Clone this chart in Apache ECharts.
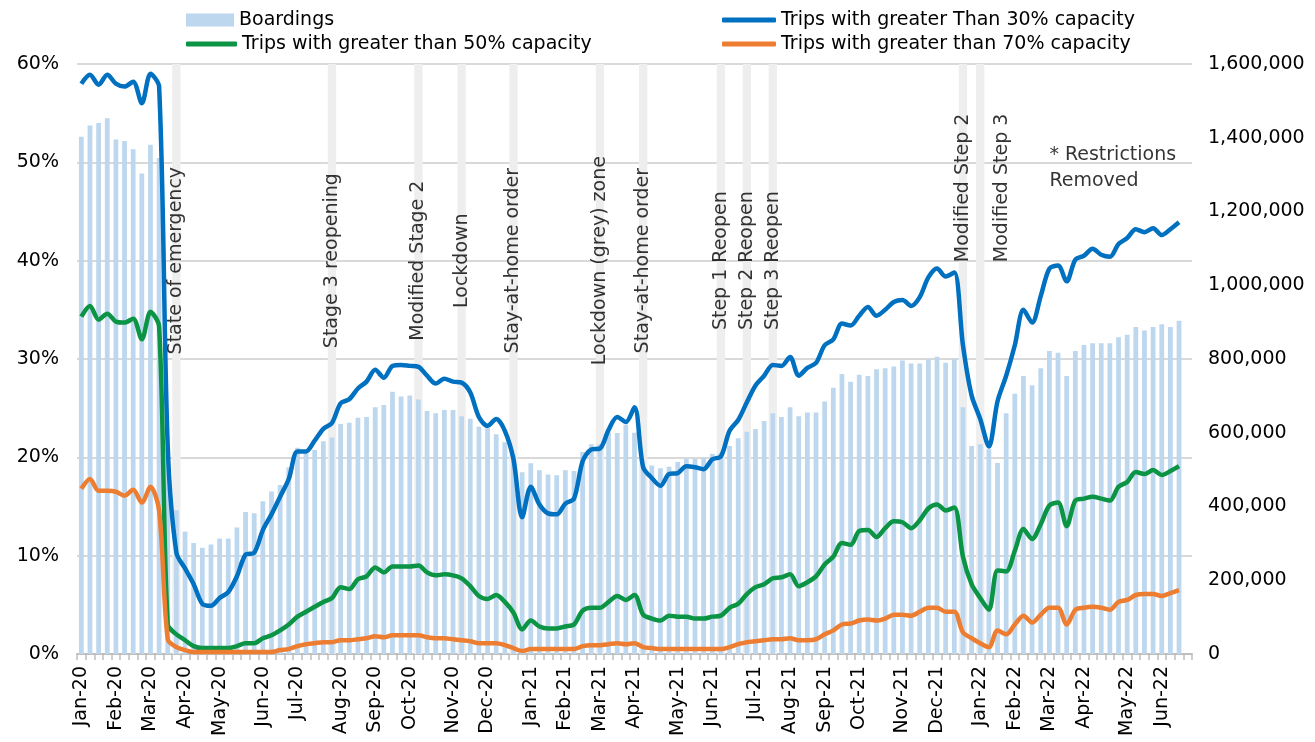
<!DOCTYPE html>
<html>
<head>
<meta charset="utf-8">
<script src="https://cdn.jsdelivr.net/npm/echarts@6/dist/echarts.min.js"></script>
<style>
html,body{margin:0;padding:0;background:#ffffff;}
#chart{width:1315px;height:742px;}
</style>
</head>
<body>
<div id="chart"></div>
<script>
// ---- Weekly categories (128 weeks of data + one trailing empty slot) ----
const weekCount = 129;
const weeks = [];
for (let i = 0; i < weekCount; i++) weeks.push('W' + (i + 1));

// ---- Month tick labels (index of the week that carries the label) ----
const monthLabelIndex = [0,4,8,12,16,21,25,30,34,38,43,47,52,56,60,64,69,73,78,82,86,90,95,99,104,108,112,116,121,125];
const monthLabelText = ['Jan-20','Feb-20','Mar-20','Apr-20','May-20','Jun-20','Jul-20','Aug-20','Sep-20','Oct-20','Nov-20','Dec-20',
  'Jan-21','Feb-21','Mar-21','Apr-21','May-21','Jun-21','Jul-21','Aug-21','Sep-21','Oct-21','Nov-21','Dec-21',
  'Jan-22','Feb-22','Mar-22','Apr-22','May-22','Jun-22'];

// ---- Weekly boardings ----
const boardings = [
  1403000,1433000,1440000,1453000,1395000,1391000,1369000,1303000,1381000,1345000,
  560000,390000,332000,301000,288000,297000,313000,313000,343000,385000,
  382000,414000,441000,458000,506000,559000,546000,553000,577000,587000,
  624000,627000,641000,643000,669000,675000,711000,698000,701000,690000,
  659000,653000,662000,662000,645000,638000,616000,613000,596000,574000,
  540000,493000,517000,498000,487000,485000,498000,496000,548000,569000,
  569000,601000,599000,622000,600000,510000,511000,504000,508000,521000,
  529000,529000,532000,543000,545000,564000,585000,603000,610000,632000,
  653000,643000,669000,645000,655000,655000,685000,722000,759000,738000,
  757000,754000,772000,775000,780000,796000,788000,788000,799000,806000,
  790000,801000,669000,564000,569000,555000,518000,653000,706000,754000,
  729000,775000,822000,817000,754000,822000,838000,843000,843000,843000,
  859000,866000,887000,877000,887000,894000,887000,904000
];

// ---- Share of trips above capacity thresholds (%) ----
const over30 = [
  58.0,58.9,57.9,58.9,58.0,57.7,58.2,56.0,59.0,57.7,
  21.0,10.3,8.7,7.1,5.1,4.9,5.7,6.3,7.9,10.1,
  10.3,12.6,14.2,16.0,17.8,20.6,20.6,21.7,22.9,23.5,
  25.5,25.9,27.0,27.7,28.9,28.1,29.3,29.4,29.3,29.2,
  28.3,27.5,28.0,27.7,27.6,26.6,24.1,23.2,23.9,22.7,
  19.8,13.9,17.0,15.2,14.3,14.2,15.3,15.8,19.6,20.8,
  20.9,22.8,24.1,23.6,25.1,19.0,17.9,17.1,18.3,18.4,
  19.1,19.0,18.8,19.8,20.1,22.7,23.8,25.6,27.3,28.3,
  29.4,29.3,30.2,28.3,29.1,29.6,31.4,32.0,33.6,33.4,
  34.4,35.3,34.4,35.0,35.8,36.0,35.4,36.3,38.3,39.2,
  38.4,38.8,31.4,26.3,23.9,21.1,25.7,28.3,31.4,35.0,
  33.7,36.4,39.2,39.5,37.9,40.1,40.5,41.2,40.6,40.4,
  41.7,42.3,43.2,42.9,43.3,42.6,43.2,43.9
];
const over50 = [
  34.3,35.4,34.0,34.6,33.8,33.7,34.1,32.0,34.8,33.3,
  3.0,2.0,1.4,0.8,0.6,0.6,0.6,0.6,0.8,1.1,
  1.1,1.6,1.9,2.4,3.0,3.8,4.3,4.8,5.3,5.7,
  6.8,6.6,7.6,7.9,8.8,8.3,8.9,8.9,8.9,9.0,
  8.3,8.0,8.1,8.0,7.7,6.9,5.9,5.6,6.0,5.3,
  4.2,2.5,3.4,2.8,2.6,2.6,2.8,3.0,4.4,4.7,
  4.7,5.3,5.9,5.5,6.0,4.0,3.6,3.4,3.9,3.8,
  3.8,3.6,3.6,3.8,3.9,4.7,5.1,6.1,6.8,7.1,
  7.7,7.8,8.1,6.9,7.3,7.9,9.1,9.9,11.3,11.1,
  12.5,12.6,11.9,12.8,13.5,13.4,12.8,13.6,14.8,15.2,
  14.6,14.9,9.9,7.1,5.7,4.5,8.5,8.4,10.5,12.7,
  11.7,13.2,15.1,15.4,13.0,15.6,15.8,16.0,15.8,15.6,
  17.0,17.5,18.5,18.3,18.7,18.2,18.6,19.1
];
const over70 = [
  16.8,17.8,16.6,16.6,16.5,16.1,16.7,15.4,17.0,14.6,
  1.5,0.7,0.4,0.2,0.2,0.2,0.2,0.2,0.2,0.2,
  0.2,0.2,0.2,0.4,0.5,0.8,1.0,1.1,1.2,1.2,
  1.4,1.4,1.5,1.6,1.8,1.7,1.9,1.9,1.9,1.9,
  1.7,1.6,1.6,1.5,1.4,1.3,1.1,1.1,1.1,0.9,
  0.6,0.3,0.5,0.5,0.5,0.5,0.5,0.5,0.8,0.9,
  0.9,1.0,1.1,1.0,1.1,0.7,0.6,0.5,0.5,0.5,
  0.5,0.5,0.5,0.5,0.5,0.7,1.0,1.2,1.3,1.4,
  1.5,1.5,1.6,1.4,1.4,1.5,2.0,2.4,3.0,3.1,
  3.4,3.5,3.4,3.6,4.0,4.0,3.9,4.3,4.7,4.7,
  4.3,4.3,2.2,1.6,1.1,0.7,2.4,2.0,3.0,3.9,
  3.2,4.0,4.7,4.7,3.0,4.5,4.7,4.8,4.7,4.5,
  5.3,5.5,6.0,6.1,6.1,5.9,6.2,6.5
];

// ---- Policy events (week index + name) ----
const eventIndex = [11,29,39,44,50,60,65,74,77,80,102,104];
const eventNames = ['State of emergency','Stage 3 reopening','Modified Stage 2','Lockdown','Stay-at-home order',
  'Lockdown (grey) zone','Stay-at-home order','Step 1 Reopen','Step 2 Reopen','Step 3 Reopen',
  'Modified Step 2','Modified Step 3'];
const noteIndex = 112;
const noteText = '* Restrictions\nRemoved';

// ---- Series names ----
const nameBoard = 'Boardings';
const name30 = 'Trips with greater Than 30% capacity';
const name50 = 'Trips with greater than 50% capacity';
const name70 = 'Trips with greater than 70% capacity';

const FONT = 'DejaVu Sans';
const FS = 19;
const labelAt = {};
monthLabelIndex.forEach((k, j) => { labelAt[k] = monthLabelText[j]; });
const fmtThousands = v => String(v).replace(/\B(?=(\d{3})+(?!\d))/g, ',');

const eventLabelData = eventIndex.map((k, j) => {
  const nm = eventNames[j];
  const high = nm.indexOf('Modified Step') === 0;
  return {
    value: [k, high ? 47.4 : 40],
    name: nm,
    // offset is in the rotated text frame: second component moves the text to the right
    label: nm === 'Modified Step 3' ? { offset: [0, 22] } : {}
  };
});

const legendBase = {
  orient: 'horizontal',
  selectedMode: false,
  padding: 0,
  textStyle: { fontFamily: FONT, fontSize: FS, color: '#000', lineHeight: 24 }
};

const option = {
  animation: false,
  backgroundColor: '#ffffff',
  textStyle: { fontFamily: FONT },
  grid: { left: 77, right: 123, top: 64, bottom: 88, outerBoundsMode: 'none' },
  legend: [
    Object.assign({}, legendBase, { data: [{ name: nameBoard, icon: 'rect' }], left: 186, top: 8, itemWidth: 48, itemHeight: 13 }),
    Object.assign({}, legendBase, { data: [{ name: name30, icon: 'roundRect' }], left: 722, top: 8, itemWidth: 54, itemHeight: 5 }),
    Object.assign({}, legendBase, { data: [{ name: name50, icon: 'roundRect' }], left: 186, top: 32, itemWidth: 51, itemHeight: 5 }),
    Object.assign({}, legendBase, { data: [{ name: name70, icon: 'roundRect' }], left: 722, top: 32, itemWidth: 54, itemHeight: 5 })
  ],
  xAxis: [
    {
      type: 'category',
      data: weeks,
      boundaryGap: true,
      axisLine: { show: true, lineStyle: { color: '#BFBFBF', width: 2 } },
      axisTick: { show: true, interval: 0, length: 6, lineStyle: { color: '#BFBFBF', width: 1.5 } },
      axisLabel: {
        interval: (i) => labelAt[i] !== undefined,
        formatter: (v, i) => labelAt[i] || '',
        rotate: 90,
        fontFamily: FONT,
        fontSize: FS,
        color: '#000',
        margin: 12
      },
      splitLine: { show: false }
    },
    { type: 'category', data: weeks, boundaryGap: true, show: false }
  ],
  yAxis: [
    {
      type: 'value', min: 0, max: 60, interval: 10,
      axisLine: { show: false }, axisTick: { show: false },
      axisLabel: { formatter: '{value}%', fontFamily: FONT, fontSize: FS, color: '#000', margin: 18 },
      splitLine: { show: true, lineStyle: { color: '#D9D9D9', width: 2 } }
    },
    {
      type: 'value', min: 0, max: 1600000, interval: 200000, position: 'right',
      axisLine: { show: false }, axisTick: { show: false },
      axisLabel: { formatter: fmtThousands, fontFamily: FONT, fontSize: FS, color: '#000', margin: 16 },
      splitLine: { show: false }
    }
  ],
  series: [
    {
      name: 'events', type: 'bar', xAxisIndex: 1, yAxisIndex: 0,
      data: eventIndex.map(k => [k, 60]),
      barWidth: '96%', itemStyle: { color: '#EEEEEE' }, z: 1, silent: true
    },
    {
      name: nameBoard, type: 'bar', xAxisIndex: 0, yAxisIndex: 1,
      data: boardings, barWidth: '55%', itemStyle: { color: '#BDD7EE' }, z: 2, silent: true
    },
    {
      name: name30, type: 'line', yAxisIndex: 0, data: over30, smooth: 0.3, symbol: 'none',
      lineStyle: { width: 4.5, color: '#0070C0' }, itemStyle: { color: '#0070C0' }, z: 3, silent: true
    },
    {
      name: name50, type: 'line', yAxisIndex: 0, data: over50, smooth: 0.3, symbol: 'none',
      lineStyle: { width: 4.5, color: '#0A9444' }, itemStyle: { color: '#0A9444' }, z: 3, silent: true
    },
    {
      name: name70, type: 'line', yAxisIndex: 0, data: over70, smooth: 0.3, symbol: 'none',
      lineStyle: { width: 4.5, color: '#ED7D31' }, itemStyle: { color: '#ED7D31' }, z: 3, silent: true
    },
    {
      name: 'eventLabels', type: 'scatter', xAxisIndex: 0, yAxisIndex: 0,
      data: eventLabelData, symbolSize: 0, z: 4, silent: true,
      label: {
        show: true, position: 'inside', rotate: 90, formatter: p => p.name,
        fontFamily: FONT, fontSize: FS, color: '#000', align: 'center', verticalAlign: 'middle'
      }
    },
    {
      name: 'note', type: 'scatter', xAxisIndex: 0, yAxisIndex: 0,
      data: [{ value: [noteIndex, 49.4], name: noteText }], symbolSize: 0, z: 4, silent: true,
      label: {
        show: true, position: 'right', distance: 0, formatter: p => p.name,
        fontFamily: FONT, fontSize: FS, color: '#000', align: 'left', verticalAlign: 'middle', lineHeight: 26
      }
    }
  ]
};

const chart = echarts.init(document.getElementById('chart'), null, { renderer: 'canvas' });
chart.setOption(option);
</script>
</body>
</html>
